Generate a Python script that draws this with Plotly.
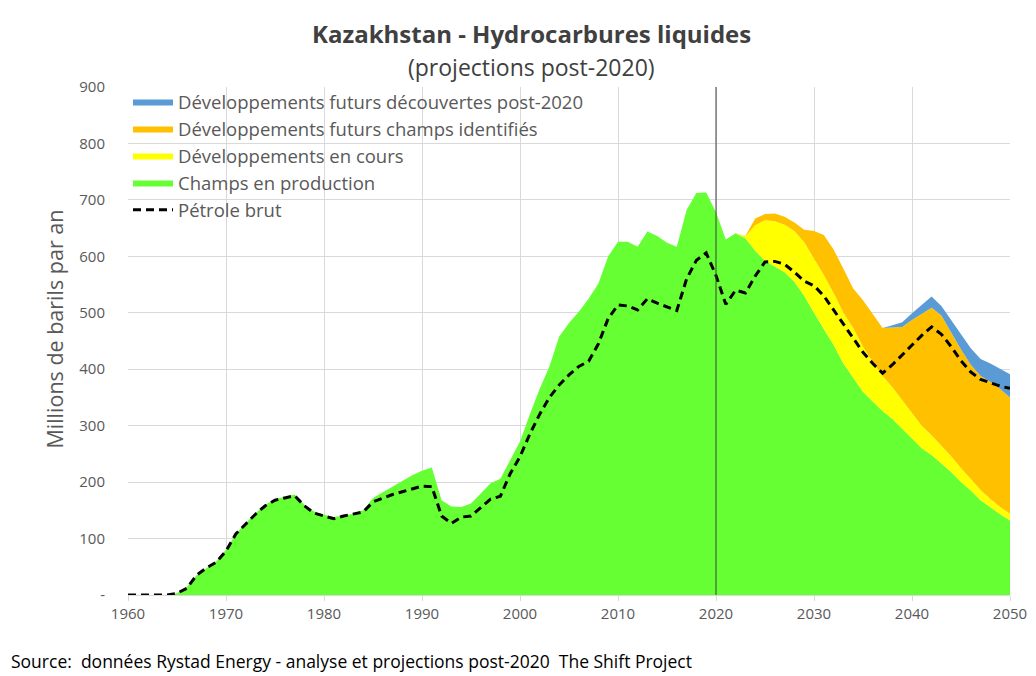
import plotly.graph_objects as go

# ---------------- data ----------------
years = list(range(1960, 2051))

champs_production = [
    0, 0, 0, 0, 0, 3, 14, 35, 48, 60,            # 1960-1969
    80, 108, 127, 145, 160, 170, 174, 178, 160, 148,  # 1970-1979
    142, 138, 141, 144, 150, 172, 182, 192, 202, 212,  # 1980-1989
    220, 226, 168, 157, 156, 162, 180, 198, 206, 240,  # 1990-1999
    272, 320, 365, 405, 458, 482, 502, 525, 552, 600,  # 2000-2009
    626, 626, 617, 644, 636, 624, 617, 682, 712, 713,  # 2010-2019
    678, 630, 641, 632, 610, 592, 582, 572, 555, 530,  # 2020-2029
    500, 472, 443, 410, 385, 360, 343, 326, 312, 295,  # 2030-2039
    278, 260, 248, 233, 218, 200, 185, 168, 155, 143,  # 2040-2049
    132,                                               # 2050
]

# projections (2020-2050)
proj_years = list(range(2020, 2051))
dev_en_cours = [
    0, 0, 0, 3, 45, 72, 80, 84, 90, 95,
    97, 95, 92, 90, 88, 80, 70, 62, 56, 50,
    45, 40, 35, 32, 28, 25, 21, 18, 15, 13,
    12,
]
futurs_champs_identifies = [
    0, 0, 0, 1, 12, 11, 14, 14, 15, 22,
    48, 71, 77, 78, 70, 82, 85, 85, 106, 130,
    164, 198, 226, 230, 219, 210, 202, 202, 208, 209,
    206,
]
futurs_decouvertes = [
    0, 0, 0, 0, 0, 0, 0, 0, 0, 0,
    0, 0, 0, 0, 0, 0, 0, 0, 4, 8,
    12, 16, 20, 17, 23, 27, 29, 30, 32, 35,
    41,
]

petrole_brut = [
    0, 0, 0, 0, 0, 3, 12, 35, 48, 58,            # 1960-1969
    78, 108, 125, 143, 158, 168, 172, 176, 158, 145,  # 1970-1979
    140, 135, 140, 143, 147, 165, 172, 178, 183, 188,  # 1980-1989
    193, 192, 140, 127, 138, 140, 155, 170, 175, 215,  # 1990-1999
    245, 285, 320, 350, 372, 390, 405, 414, 445, 490,  # 2000-2009
    514, 512, 505, 525, 517, 510, 504, 560, 593, 606,  # 2010-2019
    566, 515, 540, 535, 565, 590, 591, 586, 572, 556,  # 2020-2029
    548, 530, 505, 478, 455, 430, 410, 393, 408, 425,  # 2030-2039
    442, 460, 475, 462, 440, 415, 395, 382, 376, 370,  # 2040-2049
    366,                                               # 2050
]

y_ticks = [0, 100, 200, 300, 400, 500, 600, 700, 800, 900]
y_ticktext = ["-", "100", "200", "300", "400", "500", "600", "700", "800", "900"]
x_ticks = [1960, 1970, 1980, 1990, 2000, 2010, 2020, 2030, 2040, 2050]
projection_start = 2020

# ---------------- figure ----------------
FONT = "Open Sans"
GREY = "#595959"

n_hist = len(years) - len(proj_years)
pad = [0] * n_hist

fig = go.Figure()
fig.add_trace(go.Scatter(
    x=years, y=champs_production, name="Champs en production",
    stackgroup="s", mode="lines", line=dict(width=0, color="#66FF33"),
    fillcolor="#66FF33", legendrank=4))
fig.add_trace(go.Scatter(
    x=years, y=pad + dev_en_cours, name="Développements en cours",
    stackgroup="s", mode="lines", line=dict(width=0, color="#FFFF00"),
    fillcolor="#FFFF00", legendrank=3))
fig.add_trace(go.Scatter(
    x=years, y=pad + futurs_champs_identifies, name="Développements futurs champs identifiés",
    stackgroup="s", mode="lines", line=dict(width=0, color="#FFC000"),
    fillcolor="#FFC000", legendrank=2))
fig.add_trace(go.Scatter(
    x=years, y=pad + futurs_decouvertes, name="Développements futurs découvertes post-2020",
    stackgroup="s", mode="lines", line=dict(width=0, color="#5B9BD5"),
    fillcolor="#5B9BD5", legendrank=1))
fig.add_trace(go.Scatter(
    x=years, y=petrole_brut, name="Pétrole brut", mode="lines",
    line=dict(color="black", width=3, dash="8px,5px"), legendrank=5))

fig.add_shape(type="line", xref="x", yref="paper",
              x0=projection_start, x1=projection_start, y0=0, y1=1,
              line=dict(color="#404040", width=1), layer="above")

fig.add_annotation(text="<b>Kazakhstan - Hydrocarbures liquides</b>",
                   xref="paper", yref="paper", x=0.458, y=1.106,
                   xanchor="center", yanchor="middle",
                   showarrow=False, font=dict(family=FONT, size=24, color="#404040"))
fig.add_annotation(text="(projections post-2020)",
                   xref="paper", yref="paper", x=0.458, y=1.039,
                   xanchor="center", yanchor="middle",
                   showarrow=False, font=dict(family=FONT, size=23, color="#404040"))
fig.add_annotation(text="Millions de barils par an", textangle=-90,
                   xref="paper", yref="paper", x=-0.083, y=0.524,
                   xanchor="center", yanchor="middle",
                   showarrow=False, font=dict(family=FONT, size=21.5, color=GREY))
fig.add_annotation(text="Source:  données Rystad Energy - analyse et projections post-2020  The Shift Project",
                   xref="paper", yref="paper", x=-0.135, y=-0.13,
                   xanchor="left", yanchor="middle",
                   showarrow=False, font=dict(family=FONT, size=17.5, color="black"))

fig.update_layout(
    width=1036, height=676,
    margin=dict(l=120, r=34, t=79, b=89),
    paper_bgcolor="white", plot_bgcolor="white",
    font=dict(family=FONT, color=GREY),
    showlegend=True,
    legend=dict(x=0.0, y=1.008, xanchor="left", yanchor="top",
                bgcolor="rgba(0,0,0,0)", traceorder="normal",
                font=dict(family=FONT, size=18.5, color=GREY),
                itemwidth=40, tracegroupgap=0),
    xaxis=dict(range=[1960, 2050], tickvals=x_ticks, showgrid=True,
               gridcolor="#D9D9D9", gridwidth=1, zeroline=False,
               showline=True, linecolor="#D9D9D9", ticks="outside",
               tickcolor="#D9D9D9", ticklen=5,
               tickfont=dict(family=FONT, size=15, color=GREY)),
    yaxis=dict(range=[0, 900], tickvals=y_ticks, ticktext=y_ticktext,
               showgrid=True, gridcolor="#D9D9D9", gridwidth=1, zeroline=False,
               tickfont=dict(family=FONT, size=15, color=GREY), ticklen=19,
               ticks="outside", tickcolor="rgba(0,0,0,0)"),
)

fig.write_html("out.html")
